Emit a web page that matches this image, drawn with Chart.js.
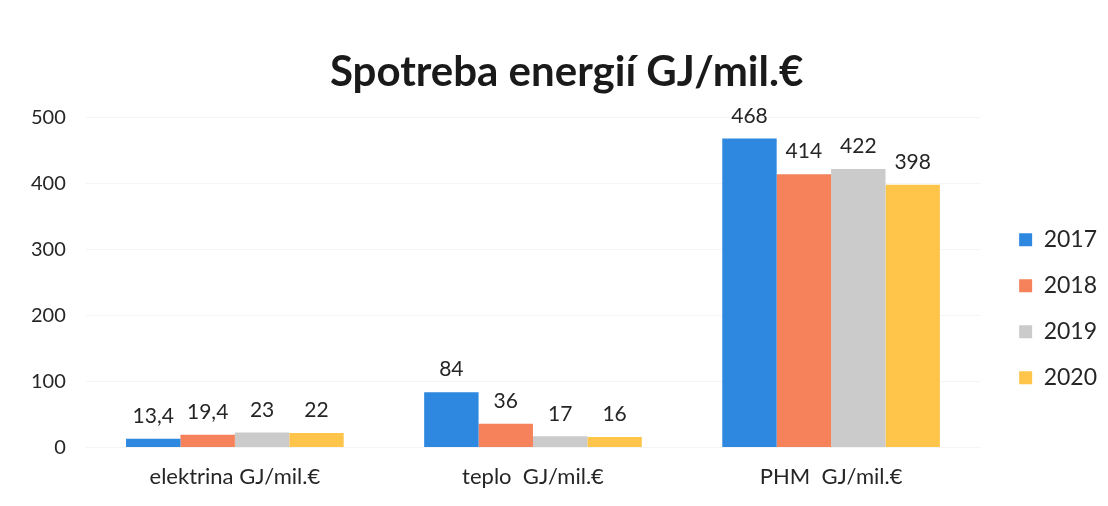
<!DOCTYPE html>
<html lang="sk">
<head>
    <meta charset="UTF-8">
    <title>Spotreba energií GJ/mil.€</title>
    <script src="https://cdn.jsdelivr.net/npm/chart.js"></script>
    <style>
        html, body { margin: 0; padding: 0; background: #fff; }
        #wrap { width: 1108px; height: 506px; }
    </style>
</head>
<body>
    <div id="wrap"><canvas id="myChart"></canvas></div>

    <script>
        const categories = ['elektrina GJ/mil.€', 'teplo  GJ/mil.€', 'PHM  GJ/mil.€'];
        const years = ['2017', '2018', '2019', '2020'];
        const values2017 = [13.4, 84, 468];
        const values2018 = [19.4, 36, 414];
        const values2019 = [23, 17, 422];
        const values2020 = [22, 16, 398];
        const colors = ['#2F88E0', '#F5825A', '#CBCBCB', '#FFC54A'];

        // cisla nad stlpcami (s desatinnou ciarkou)
        const barLabels = {
            id: 'barLabels',
            afterLayout(chart) {
                // legenda trochu viac doprava, ako v originali
                chart.legend.left += 16;
                chart.legend.right += 16;
            },
            afterDatasetsDraw(chart) {
                const ctx = chart.ctx;
                ctx.save();
                ctx.font = '21px Lato';
                ctx.fillStyle = '#262626';
                ctx.textAlign = 'center';
                ctx.textBaseline = 'bottom';
                chart.data.datasets.forEach((ds, i) => {
                    chart.getDatasetMeta(i).data.forEach((bar, j) => {
                        const txt = String(ds.data[j]).replace('.', ',');
                        ctx.fillText(txt, bar.x, bar.y - 12);
                    });
                });
                ctx.restore();
            }
        };

        const allSeries = [values2017, values2018, values2019, values2020];
        const ctx = document.getElementById('myChart').getContext('2d');
        new Chart(ctx, {
            type: 'bar',
            data: {
                labels: categories,
                datasets: years.map((y, i) => ({
                    label: y,
                    data: allSeries[i],
                    backgroundColor: colors[i],
                    categoryPercentage: 0.73,
                    barPercentage: 1
                }))
            },
            options: {
                responsive: true,
                maintainAspectRatio: false,
                animation: false,
                layout: { padding: { left: 11, right: 17, top: 0, bottom: 0 } },
                plugins: {
                    title: {
                        display: true,
                        text: '\u2002 Spotreba energií GJ/mil.€',
                        color: '#1a1a1a',
                        font: { family: 'Lato', size: 42, weight: 'bold' },
                        padding: { top: 47, bottom: 20 }
                    },
                    legend: {
                        position: 'right',
                        title: { display: true, text: '', padding: { top: 51, bottom: 46 } },
                        labels: {
                            font: { family: 'Lato', size: 23 },
                            color: '#262626',
                            boxWidth: 13,
                            boxHeight: 13,
                            padding: 23
                        }
                    },
                    tooltip: { enabled: false }
                },
                scales: {
                    x: {
                        grid: { display: false, drawTicks: false },
                        border: { display: false },
                        ticks: {
                            font: { family: 'Lato', size: 22 },
                            color: '#262626',
                            padding: 16
                        }
                    },
                    y: {
                        min: 0,
                        max: 500,
                        ticks: {
                            stepSize: 100,
                            font: { family: 'Lato', size: 20 },
                            color: '#262626',
                            padding: 20
                        },
                        grid: { color: '#f4f4f4', drawTicks: false },
                        border: { display: false }
                    }
                }
            },
            plugins: [barLabels]
        });
    </script>
</body>
</html>
